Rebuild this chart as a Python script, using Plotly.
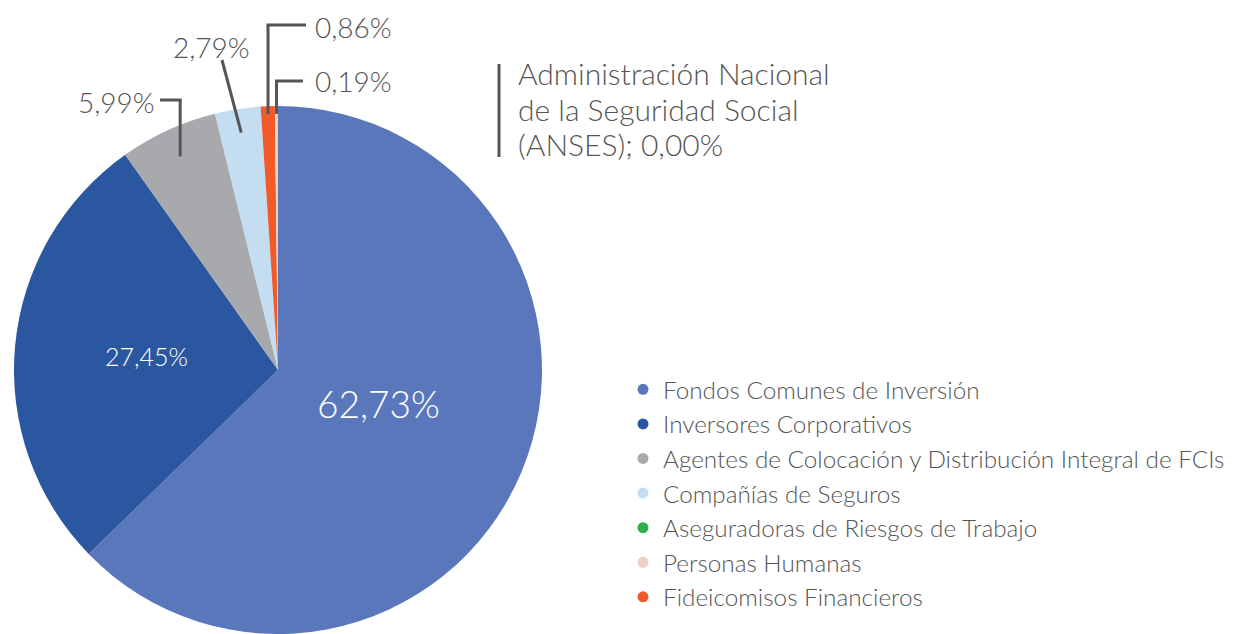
import math
import plotly.graph_objects as go

# ---- data ----
slice_labels = ["Fondos Comunes de Inversión", "Inversores Corporativos",
                "Agentes de Colocación y Distribución Integral de FCIs",
                "Compañías de Seguros", "Aseguradoras de Riesgos de Trabajo",
                "Fideicomisos Financieros", "Personas Humanas",
                "Administración Nacional de la Seguridad Social (ANSES)"]
slice_values = [62.73, 27.45, 5.99, 2.79, 0.00, 0.86, 0.19, 0.00]
slice_colors = ["#5B77BC", "#2A579F", "#A7A9AC", "#C4DDF1", "#2DB04B",
                "#F15A29", "#EECFC4", "#777777"]

legend_labels = ["Fondos Comunes de Inversión", "Inversores Corporativos",
                 "Agentes de Colocación y Distribución Integral de FCIs",
                 "Compañías de Seguros", "Aseguradoras de Riesgos de Trabajo",
                 "Personas Humanas", "Fideicomisos Financieros"]
legend_colors = ["#5B77BC", "#2A579F", "#A7A9AC", "#C4DDF1", "#2DB04B",
                 "#EECFC4", "#F15A29"]

anses_lines = ["Administración Nacional", "de la Seguridad Social", "(ANSES); "]

W, H = 1243, 634
cx, cy, R = 278, 370, 264
FONT = "Lato"
WEIGHT = 300
GRAY = "#555555"


def fmt(v):
    return f"{v:.2f}".replace(".", ",") + "%"


def px(x, y):
    return x / W, 1 - y / H


fig = go.Figure()
fig.add_trace(go.Pie(
    labels=slice_labels, values=slice_values, sort=False, direction="clockwise",
    rotation=0, marker=dict(colors=slice_colors, line=dict(width=0)),
    textinfo="none", showlegend=False, hoverinfo="label+percent",
    domain=dict(x=[(cx - R) / W, (cx + R) / W], y=[1 - (cy + R) / H, 1 - (cy - R) / H]),
))

for name, col in zip(legend_labels, legend_colors):
    fig.add_trace(go.Scatter(x=[None], y=[None], mode="markers", name=name,
                             legendgroup=name,
                             marker=dict(color=col, size=11, symbol="circle")))

total = sum(slice_values)
cum = 0
mids = {}
for lab, v in zip(slice_labels, slice_values):
    mids[lab] = (cum + v / 2) / total * 360
    cum += v


def arc_point(lab, frac):
    a = math.radians(mids[lab])
    return cx + frac * R * math.sin(a), cy - frac * R * math.cos(a)


shapes = []
annots = []
line = dict(color=GRAY, width=3)


def seg(p, q):
    x0, y0 = px(*p)
    x1, y1 = px(*q)
    shapes.append(dict(type="line", xref="paper", yref="paper",
                       x0=x0, y0=y0, x1=x1, y1=y1, line=line))


def label(text, x, y, xanchor, yanchor="middle", size=28, color=GRAY):
    xx, yy = px(x, y)
    annots.append(dict(text=text, x=xx, y=yy, xref="paper", yref="paper",
                       xanchor=xanchor, yanchor=yanchor, showarrow=False,
                       font=dict(family=FONT, size=size, color=color, weight=WEIGHT)))


# inside labels
p = arc_point(slice_labels[0], 0.40)
label(fmt(slice_values[0]), p[0] + 3, p[1] - 8, "center", size=37, color="white")
p = arc_point(slice_labels[1], 0.50)
label(fmt(slice_values[1]), p[0], p[1] - 2, "center", size=25, color="white")

# Agentes (elbow to the left)
p = arc_point(slice_labels[2], 0.89)
seg(p, (p[0], 100)); seg((p[0] + 1.5, 100), (160, 100))
label(fmt(slice_values[2]), 157, 102, "right")
# Compañías (straight)
p = arc_point(slice_labels[3], 0.91)
seg(p, (222, 60))
label(fmt(slice_values[3]), 212, 47, "center")
# Fideicomisos (elbow to the right)
p = arc_point(slice_labels[5], 0.97)
seg(p, (p[0], 25)); seg((p[0] - 1.5, 25), (306, 25))
label(fmt(slice_values[5]), 313, 27, "left")
# Personas Humanas (elbow to the right)
p = arc_point(slice_labels[6], 0.97)
seg(p, (p[0], 81)); seg((p[0] - 1.5, 81), (303, 81))
label(fmt(slice_values[6]), 313, 81, "left")
# ANSES
seg((499, 64), (499, 157))
anses_text = anses_lines[:2] + [anses_lines[2] + fmt(slice_values[7])]
for i, t in enumerate(anses_text):
    label(t, 516, 73 + 35.5 * i, "left", size=30)

fig.update_layout(
    width=W, height=H, margin=dict(l=0, r=0, t=0, b=0),
    paper_bgcolor="white", plot_bgcolor="white",
    xaxis=dict(visible=False), yaxis=dict(visible=False),
    shapes=shapes, annotations=annots,
    showlegend=True,
    legend=dict(x=623 / W, y=1 - 367 / H, xanchor="left", yanchor="top",
                font=dict(family=FONT, size=24.3, color=GRAY, weight=WEIGHT),
                tracegroupgap=0, bgcolor="rgba(0,0,0,0)", itemwidth=30),
    font=dict(family=FONT, color=GRAY),
)

fig.write_html("out.html", config={"displayModeBar": False},
               post_script="document.body.style.margin='0';")
